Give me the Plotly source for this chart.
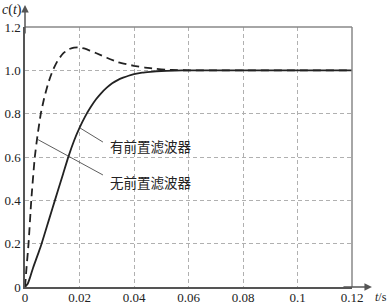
import plotly.graph_objects as go

# Data
t_with = [0, 0.001, 0.002, 0.003, 0.004, 0.005, 0.006, 0.008, 0.010, 0.012, 0.014, 0.016, 0.018, 0.020, 0.022,
          0.024, 0.026, 0.028, 0.030, 0.032, 0.034, 0.036, 0.038, 0.040, 0.043, 0.046, 0.050, 0.055, 0.060, 0.12]
c_with = [0, 0.015, 0.05, 0.09, 0.125, 0.16, 0.196, 0.278, 0.36, 0.442, 0.523, 0.604, 0.675, 0.734, 0.785,
          0.828, 0.865, 0.895, 0.92, 0.94, 0.955, 0.966, 0.975, 0.982, 0.989, 0.993, 0.997, 0.999, 1.0, 1.0]

t_without = [0, 0.0006, 0.0013, 0.0023, 0.0036, 0.0046, 0.0058, 0.0070, 0.0085, 0.0102, 0.012, 0.014, 0.016,
             0.018, 0.0196, 0.022, 0.024, 0.026, 0.030, 0.034, 0.038, 0.040, 0.044, 0.048, 0.052, 0.056, 0.060, 0.12]
c_without = [0, 0.095, 0.2, 0.4, 0.6, 0.7, 0.8, 0.87, 0.94, 1.0, 1.045, 1.078, 1.097,
             1.105, 1.106, 1.1, 1.09, 1.08, 1.058, 1.038, 1.026, 1.021, 1.013, 1.007, 1.003, 1.001, 1.0, 1.0]

x_ticks = [0, 0.02, 0.04, 0.06, 0.08, 0.1, 0.12]
x_tick_labels = ["0", "0.02", "0.04", "0.06", "0.08", "0.1", "0.12"]
y_ticks = [0, 0.2, 0.4, 0.6, 0.8, 1.0, 1.2]
y_tick_labels = ["0", "0.2", "0.4", "0.6", "0.8", "1.0", "1.2"]

label_with = "有前置滤波器"
label_without = "无前置滤波器"

serif = "Liberation Serif, Times New Roman, serif"
cjk = "Noto Sans CJK SC"

fig = go.Figure()
fig.add_trace(go.Scatter(x=t_without, y=c_without, mode="lines",
                         line=dict(color="#222", width=1.8, dash="8px,5px", shape="spline", smoothing=0.5),
                         showlegend=False, hoverinfo="skip"))
fig.add_trace(go.Scatter(x=t_with, y=c_with, mode="lines",
                         line=dict(color="#222", width=1.8, shape="spline", smoothing=0.5),
                         showlegend=False, hoverinfo="skip"))

grid = dict(showgrid=True, gridcolor="#b0b0b0", griddash="4px,3px", gridwidth=1, zeroline=False,
            automargin=False, ticklen=0)

fig.update_xaxes(range=[0, 0.12], tickvals=x_ticks, ticktext=x_tick_labels, ticks="",
                 showline=True, linecolor="#555", linewidth=1.5, ticklabelstandoff=-2,
                 tickfont=dict(family=serif, size=13, color="#222"), **grid)
fig.update_yaxes(range=[0, 1.2], tickvals=y_ticks, ticktext=y_tick_labels, ticks="",
                 showline=True, linecolor="#555", linewidth=1.5,
                 tickfont=dict(family=serif, size=13, color="#222"), **grid)

shapes = [
    # top and right border
    dict(type="line", xref="paper", yref="paper", x0=0, x1=1, y0=1, y1=1, line=dict(color="#888", width=1.5)),
    dict(type="line", xref="paper", yref="paper", x0=1, x1=1, y0=0, y1=1, line=dict(color="#888", width=1.5)),
    # leader lines
    dict(type="line", xref="x", yref="y", x0=0.0202, y0=0.734, x1=0.0286, y1=0.669, line=dict(color="#333", width=0.8)),
    dict(type="line", xref="x", yref="y", x0=0.0048, y0=0.68, x1=0.0286, y1=0.517, line=dict(color="#333", width=0.8)),
]

annotations = [
    dict(x=0.0305, y=0.651, xref="x", yref="y", text=label_with, showarrow=False,
         xanchor="left", yanchor="middle", font=dict(family=cjk, size=13.5, color="#222")),
    dict(x=0.0305, y=0.485, xref="x", yref="y", text=label_without, showarrow=False,
         xanchor="left", yanchor="middle", font=dict(family=cjk, size=13.5, color="#222")),
    # axis arrows
    dict(x=0, y=1.085, xref="paper", yref="paper", ax=0, ay=30,
         showarrow=True, arrowhead=2, arrowsize=1, arrowwidth=1.5, arrowcolor="#555", text=""),
    dict(x=1.061, y=0, xref="paper", yref="paper", ax=-30, ay=0,
         showarrow=True, arrowhead=2, arrowsize=1, arrowwidth=1.5, arrowcolor="#555", text=""),
    # axis titles
    dict(x=-0.003, y=1.065, xref="paper", yref="paper", text="<i>c</i>(<i>t</i>)", showarrow=False,
         xanchor="right", yanchor="middle", font=dict(family=serif, size=14, color="#222")),
    dict(x=1.064, y=-0.005, xref="paper", yref="paper", text="<i>t</i>/s", showarrow=False,
         xanchor="left", yanchor="top", font=dict(family=serif, size=12, color="#222")),
]

fig.update_layout(width=388, height=304, margin=dict(l=25, r=36, t=27, b=17, autoexpand=False),
                  paper_bgcolor="white", plot_bgcolor="white",
                  shapes=shapes, annotations=annotations)

fig.write_html("out.html")
